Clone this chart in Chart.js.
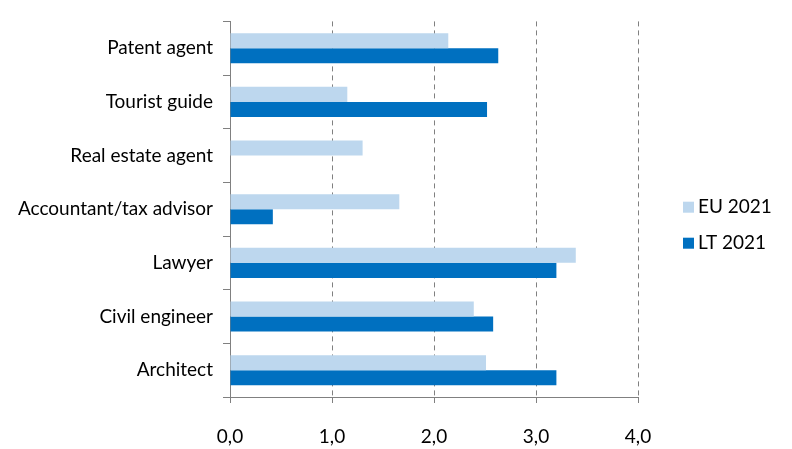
<!DOCTYPE html>
<html>
<head>
<meta charset="utf-8">
<script src="https://cdn.jsdelivr.net/npm/chart.js@4.4.0/dist/chart.umd.min.js"></script>
<style>
  html, body { margin: 0; padding: 0; background: #fff; }
  #wrap { width: 792px; height: 449px; }
</style>
</head>
<body>
<div id="wrap"><canvas id="myChart"></canvas></div>
<script>
// data
const categories = ['Patent agent', 'Tourist guide', 'Real estate agent', 'Accountant/tax advisor', 'Lawyer', 'Civil engineer', 'Architect'];
const eu2021 = [2.14, 1.15, 1.30, 1.66, 3.39, 2.39, 2.51];
const lt2021 = [2.63, 2.52, 0, 0.42, 3.20, 2.58, 3.20];
const xTicks = [0, 1, 2, 3, 4];

// legend on the right, drawn by hand so it sits where the original one is
const sideLegend = {
    id: 'sideLegend',
    afterDraw(chart) {
        const c = chart.ctx;
        const midY = (chart.chartArea.top + chart.chartArea.bottom) / 2;
        c.save();
        c.font = '19px Lato, "Open Sans", sans-serif';
        c.textBaseline = 'middle';
        chart.data.datasets.forEach((ds, i) => {
            let y = midY + 16 + (i - 0.5) * 36;
            c.fillStyle = ds.backgroundColor;
            c.fillRect(683, y - 5.5, 11, 11);
            c.fillStyle = '#000';
            c.fillText(ds.label, 698, y);
        });
        c.restore();
    }
};

window.addEventListener("DOMContentLoaded", function () {
    let ctx = document.getElementById('myChart');
    Chart.defaults.font.family = 'Lato, "Open Sans", sans-serif';
    Chart.defaults.font.size = 19;
    Chart.defaults.color = '#000';

    new Chart(ctx, {
        type: 'bar',
        data: {
            labels: categories,
            datasets: [{
                label: 'EU 2021',
                data: eu2021,
                backgroundColor: '#BDD7EE',
                borderWidth: 0
            }, {
                label: 'LT 2021',
                data: lt2021,
                backgroundColor: '#0070C0',
                borderWidth: 0
            }]
        },
        plugins: [sideLegend],
        options: {
            indexAxis: 'y',
            responsive: true,
            maintainAspectRatio: false,
            animation: false,
            layout: { padding: { left: 16, right: 154, top: 21, bottom: 0 } },
            datasets: { bar: { barPercentage: 1, categoryPercentage: 0.56 } },
            scales: {
                x: {
                    min: 0,
                    max: 4,
                    afterBuildTicks: function (axis) {
                        axis.ticks = xTicks.map(v => ({ value: v }));
                    },
                    afterFit: function (scale) { scale.height = 52; },
                    ticks: {
                        padding: 22,
                        callback: v => v.toFixed(1).replace('.', ',')
                    },
                    grid: {
                        color: '#808080',
                        lineWidth: 1,
                        tickLength: 6,
                        drawTicks: true
                    },
                    border: { display: true, color: '#808080', dash: [5, 4] }
                },
                y: {
                    afterFit: function (scale) { scale.width = 214; },
                    ticks: { padding: 10 },
                    grid: {
                        drawOnChartArea: false,
                        drawTicks: true,
                        tickLength: 7,
                        color: '#808080'
                    },
                    border: { display: true, color: '#808080' }
                }
            },
            plugins: {
                legend: { display: false },
                tooltip: { enabled: false }
            }
        }
    });
});
</script>
</body>
</html>
